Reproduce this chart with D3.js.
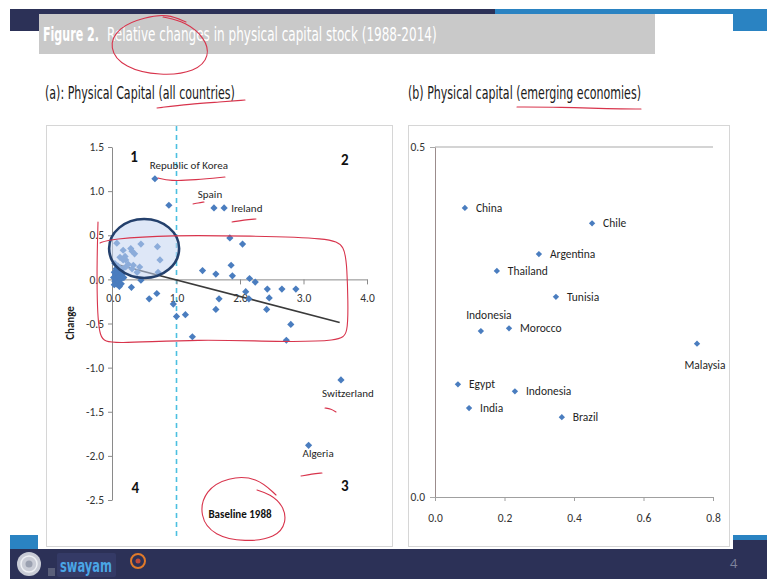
<!DOCTYPE html>
<html><head><meta charset="utf-8">
<script src="https://cdn.jsdelivr.net/npm/d3@7"></script>
<style>
body{margin:0;background:#fff;}
svg{display:block;}
</style></head><body>
<svg id="c" width="767" height="579"></svg>
<script>
// ---------------- DATA ----------------
// Panel (a): all countries, unlabeled points
const leftX = [0.88,1.84,2.04,0.06,0.44,0.70,0.16,0.28,0.30,0.34,0.11,0.20,0.19,0.74,0.24,0.30,0.38,0.42,0.71,0.44,1.41,1.62,1.86,1.88,2.15,2.24,
  0.01,0.02,0.03,0.04,0.05,0.05,0.06,0.07,0.08,0.09,0.10,0.11,0.12,0.13,0.14,0.15,0.02,0.08,0.03,0.17,0.16,0.20,0.32,
  0.29,0.57,0.69,0.95,1.00,1.14,1.25,1.67,1.62,2.09,2.14,2.43,2.46,2.42,2.66,2.88,2.80,2.73];
const leftY = [0.84,0.47,0.40,0.41,0.40,0.37,0.33,0.35,0.32,0.29,0.25,0.22,0.26,0.22,0.17,0.12,0.08,0.14,0.08,-0.01,0.10,0.06,0.16,0.04,0.01,-0.03,
  0.02,0.08,-0.02,0.05,0.12,-0.05,0.01,0.07,-0.03,0.03,-0.08,0.10,0.00,-0.05,0.06,0.12,-0.06,0.15,0.18,0.02,0.22,0.14,0.16,
  -0.09,-0.22,-0.16,-0.28,-0.42,-0.40,-0.65,-0.22,-0.34,-0.14,-0.22,-0.11,-0.21,-0.34,-0.11,-0.11,-0.51,-0.69];
// Panel (a): labeled points
const leftNames = ["Republic of Korea","Spain","Ireland","Switzerland","Algeria"];
const leftNX = [0.66,1.59,1.75,3.59,3.08];
const leftNY = [1.14,0.81,0.81,-1.14,-1.88];
// Panel (a): trend line (intercept, slope, x-range)
const trendIntercept = 0.18, trendSlope = -0.187, trendXRange = [0, 3.57];
// Panel (a): axis ticks
const leftXTicks = [0,1,2,3,4];
const leftYTicks = [1.5,1.0,0.5,0.0,-0.5,-1.0,-1.5,-2.0,-2.5];
const quadrantLabels = ["1","2","3","4"];

// Panel (b): emerging economies
const rightNames = ["China","Chile","Argentina","Thailand","Tunisia","Indonesia","Morocco","Malaysia","Egypt","Indonesia","India","Brazil"];
const rightX = [0.086,0.452,0.299,0.178,0.348,0.132,0.213,0.754,0.066,0.230,0.098,0.365];
const rightY = [0.413,0.391,0.347,0.323,0.286,0.237,0.241,0.219,0.161,0.151,0.127,0.114];
const rightXTicks = [0,0.2,0.4,0.6,0.8];
const rightYTicks = [0,0.5];

// ---------------- DRAW ----------------
const svg = d3.select("#c");
const NAVY = "#2c3157", BLUE = "#2a83c2";
const numFont = "Carlito, Lato, 'Open Sans', sans-serif";
const narrow = "'Liberation Sans Narrow', 'DejaVu Sans Condensed', 'Roboto', sans-serif";
const markColor = "#4a7dbf";
const ink = "#d8344c";

// text squeezed horizontally to a target width (real bbox via transform)
function fitText(parent, str, x, y, width, size, weight, fill){
  const t = parent.append("text").attr("font-family",narrow).attr("font-size",size)
    .attr("font-weight",weight).attr("fill",fill).text(str);
  const w = t.node().getComputedTextLength();
  t.attr("transform",`translate(${x},${y}) scale(${width/w},1)`);
  return t;
}

// slide chrome
svg.append("rect").attr("x",10).attr("y",9).attr("width",485).attr("height",5).attr("fill",NAVY);
svg.append("rect").attr("x",495).attr("y",9).attr("width",272).attr("height",5).attr("fill",BLUE);
svg.append("rect").attr("x",10).attr("y",9).attr("width",29).attr("height",22).attr("fill",NAVY);
svg.append("rect").attr("x",733).attr("y",9).attr("width",34).attr("height",22).attr("fill",BLUE);
svg.append("rect").attr("x",39).attr("y",14).attr("width",616).attr("height",40).attr("fill","#c9c9c9");
// footer
svg.append("rect").attr("x",10).attr("y",535).attr("width",28).attr("height",15).attr("fill",BLUE);
svg.append("rect").attr("x",733).attr("y",535).attr("width",34).attr("height",5).attr("fill",BLUE);
svg.append("rect").attr("x",733).attr("y",540).attr("width",34).attr("height",10).attr("fill",NAVY);
svg.append("rect").attr("x",10).attr("y",549).attr("width",757).attr("height",30).attr("fill",NAVY);
// logos
const lg = svg.append("g");
lg.append("circle").attr("cx",29).attr("cy",564).attr("r",12).attr("fill","#c9ccd6");
lg.append("circle").attr("cx",29).attr("cy",564).attr("r",8).attr("fill","none").attr("stroke","#eef0f4").attr("stroke-width",1.5);
lg.append("circle").attr("cx",29).attr("cy",564).attr("r",3.5).attr("fill","#9aa0b0");
lg.append("rect").attr("x",48).attr("y",568).attr("width",7).attr("height",8).attr("fill","#5a5f7a");
lg.append("rect").attr("x",57).attr("y",553).attr("width",59).attr("height",24).attr("rx",2).attr("fill","#343a66");
fitText(lg,"swayam",60,572,52,17,"bold","#4aa6e6");
lg.append("circle").attr("cx",138).attr("cy",561).attr("r",7).attr("fill","none").attr("stroke","#e07a2a").attr("stroke-width",2);
lg.append("circle").attr("cx",138).attr("cy",561).attr("r",2.5).attr("fill","#c04a3a");
svg.append("text").attr("x",730).attr("y",568).attr("font-family","'Open Sans',sans-serif").attr("font-size",13)
  .attr("fill","#7f849c").text("4");

// title
fitText(svg,"Figure 2.",43,41,56,19,"bold","#fff");
fitText(svg,"Relative changes in physical capital stock (1988-2014)",107,41,330,19,"normal","#fff");
fitText(svg,"(a): Physical Capital (all countries)",45,99,190,17,"normal","#1a1a1a");
fitText(svg,"(b) Physical capital (emerging economies)",408,99,233,17,"normal","#1a1a1a");

// panel frames
svg.append("rect").attr("x",46.5).attr("y",125.5).attr("width",346).attr("height",421).attr("fill","#fff").attr("stroke","#d6d6d6");
svg.append("rect").attr("x",408.5).attr("y",125.5).attr("width",321).attr("height",421).attr("fill","#fff").attr("stroke","#d6d6d6");

const diamond = d3.symbol().type(d3.symbolSquare).size(26);
const fmt = d => d.toFixed(1);

// ---------- Panel (a) ----------
const xL = d3.scaleLinear().domain([0,4]).range([113,367]);
const yL = d3.scaleLinear().domain([-2.5,1.5]).range([500,147]);
const gA = svg.append("g");

// dashed baseline at x=1
gA.append("line").attr("x1",xL(1)).attr("x2",xL(1)).attr("y1",126).attr("y2",537)
  .attr("stroke","#4cc0e0").attr("stroke-width",1.6).attr("stroke-dasharray","5,4");

const axY = gA.append("g").attr("transform",`translate(${xL(0)-1},0)`)
  .call(d3.axisLeft(yL).tickValues(leftYTicks).tickFormat(fmt).tickSize(4).tickSizeOuter(0).tickPadding(4));
const axX = gA.append("g").attr("transform",`translate(0,${yL(0)})`)
  .call(d3.axisBottom(xL).tickValues(leftXTicks).tickFormat(fmt).tickSize(5).tickSizeOuter(0).tickPadding(9));
[axY,axX].forEach(a=>{
  a.selectAll("path,line").attr("stroke","#8a8a8a");
  a.selectAll("text").attr("font-family",numFont).attr("font-size",11.5).attr("fill","#333");
});

// y title
gA.append("text").attr("transform","translate(74,323) rotate(-90)").attr("text-anchor","middle")
  .attr("font-family",numFont).attr("font-weight","bold").attr("font-size",11).attr("fill","#222").text("Change");

// trend line
gA.append("line").attr("x1",xL(trendXRange[0])).attr("y1",yL(trendIntercept+trendSlope*trendXRange[0]))
  .attr("x2",xL(trendXRange[1])).attr("y2",yL(trendIntercept+trendSlope*trendXRange[1]))
  .attr("stroke","#3a3a3a").attr("stroke-width",1.6);

// points
gA.selectAll("path.pt").data(leftX.map((x,i)=>[x,leftY[i]])).join("path").attr("class","pt")
  .attr("d",diamond).attr("transform",d=>`translate(${xL(d[0])},${yL(d[1])}) rotate(45)`).attr("fill",markColor);
gA.selectAll("path.ptn").data(leftNames.map((n,i)=>[leftNX[i],leftNY[i],n])).join("path").attr("class","ptn")
  .attr("d",diamond).attr("transform",d=>`translate(${xL(d[0])},${yL(d[1])}) rotate(45)`).attr("fill",markColor);

// blue highlight ellipse (hand annotation) over the cluster
gA.append("ellipse").attr("cx",xL(0.49)).attr("cy",yL(0.35)).attr("rx",35).attr("ry",29.5)
  .attr("fill","#c3d3f0").attr("fill-opacity",0.55).attr("stroke","#24406c").attr("stroke-width",2.6);

// labels (pixel offsets from their points)
const leftLabelOffset = {"Republic of Korea":[34,-10,"middle"],"Spain":[-4,-10,"middle"],"Ireland":[7,4,"start"],
  "Switzerland":[7,17,"middle"],"Algeria":[-6,12,"start"]};
gA.selectAll("text.lab").data(leftNames.map((n,i)=>[leftNX[i],leftNY[i],n])).join("text").attr("class","lab")
  .attr("x",d=>xL(d[0])+leftLabelOffset[d[2]][0]).attr("y",d=>yL(d[1])+leftLabelOffset[d[2]][1])
  .attr("text-anchor",d=>leftLabelOffset[d[2]][2])
  .attr("font-family",numFont).attr("font-size",11).attr("fill","#1f1f1f").text(d=>d[2]);

// quadrant numbers
const quadPos = [[0.33,1.33],[3.65,1.30],[3.65,-2.40],[0.35,-2.42]];
gA.selectAll("text.q").data(quadrantLabels).join("text").attr("class","q")
  .attr("x",(d,i)=>xL(quadPos[i][0])).attr("y",(d,i)=>yL(quadPos[i][1]))
  .attr("text-anchor","middle").attr("font-family",numFont).attr("font-weight","bold").attr("font-size",15).attr("fill","#111").text(d=>d);

gA.append("text").attr("x",240).attr("y",518).attr("text-anchor","middle").attr("font-family",numFont)
  .attr("font-weight","bold").attr("font-size",11).attr("fill","#111").text("Baseline 1988");

// ---------- Panel (b) ----------
const xR = d3.scaleLinear().domain([0,0.8]).range([435,713]);
const yR = d3.scaleLinear().domain([0,0.5]).range([497,147]);
const gB = svg.append("g");
gB.append("line").attr("x1",xR(0)).attr("x2",xR(0.8)).attr("y1",yR(0.5)).attr("y2",yR(0.5)).attr("stroke","#a9a9a9");
const bY = gB.append("g").attr("transform",`translate(${xR(0)},0)`)
  .call(d3.axisLeft(yR).tickValues(rightYTicks).tickFormat(fmt).tickSize(5).tickSizeOuter(0).tickPadding(5));
const bX = gB.append("g").attr("transform",`translate(0,${yR(0)})`)
  .call(d3.axisBottom(xR).tickValues(rightXTicks).tickFormat(fmt).tickSize(4).tickSizeOuter(0).tickPadding(13));
bY.selectAll("path").attr("stroke","#9b8c8c");
bY.selectAll("line").attr("stroke","#a9a9a9");
bX.selectAll("path,line").attr("stroke","#a0a0a0");
[bY,bX].forEach(a=>a.selectAll("text").attr("font-family",numFont).attr("font-size",11.5).attr("fill","#333"));

gB.selectAll("path.pt").data(rightX.map((x,i)=>[x,rightY[i],rightNames[i]])).join("path").attr("class","pt")
  .attr("d",d3.symbol().type(d3.symbolSquare).size(20))
  .attr("transform",d=>`translate(${xR(d[0])},${yR(d[1])}) rotate(45)`).attr("fill",markColor);
const rightLabelPlace = {5:"above",7:"below"};
gB.selectAll("text.lab").data(rightX.map((x,i)=>[x,rightY[i],rightNames[i],i])).join("text").attr("class","lab")
  .attr("x",d=>{const p=rightLabelPlace[d[3]]; return xR(d[0]) + (p==="above"?8:p==="below"?8:11);})
  .attr("y",d=>{const p=rightLabelPlace[d[3]]; return yR(d[1]) + (p==="above"?-12:p==="below"?25:4);})
  .attr("text-anchor",d=>rightLabelPlace[d[3]]?"middle":"start")
  .attr("font-family",numFont).attr("font-size",11.5).attr("fill","#1f1f1f").text(d=>d[2]);

// ---------- hand-drawn annotations ----------
const annot = svg.append("g").attr("fill","none").attr("stroke",ink).attr("stroke-width",1.1).attr("stroke-linecap","round");
const line = d3.line().curve(d3.curveBasis);
annot.append("path").attr("d",line([[163,17],[186,22],[205,38],[210,56],[196,72],[160,76],[124,68],[108,48],[118,27],[145,17],[168,14],[186,22]]));
annot.append("path").attr("d",line([[157,108],[190,104],[220,102],[245,100]]));
annot.append("path").attr("d",line([[517,107],[560,107],[610,109],[641,109]]));
annot.append("path").attr("d",line([[158,178],[170,181],[195,180],[225,177]]));
annot.append("path").attr("d",line([[193,204],[198,203],[204,202]]));
annot.append("path").attr("d",line([[232,222],[244,220],[256,219]]));
annot.append("path").attr("d",line([[325,408],[331,409],[336,412]]));
annot.append("path").attr("d",line([[301,476],[312,474],[322,473]]));
annot.append("path").attr("d",line([[98,222],[97,260],[97,300],[99,340],[110,344],[200,339],[280,342],[340,341],[348,334],[348,300],[347,270],[345,245],[330,238],[250,236],[170,235],[110,239],[100,243]]));
annot.append("path").attr("d",line([[257,490],[270,494],[283,505],[287,522],[276,538],[245,542],[214,536],[199,516],[205,490],[228,477],[257,477],[276,495]]));
</script>
</body></html>
